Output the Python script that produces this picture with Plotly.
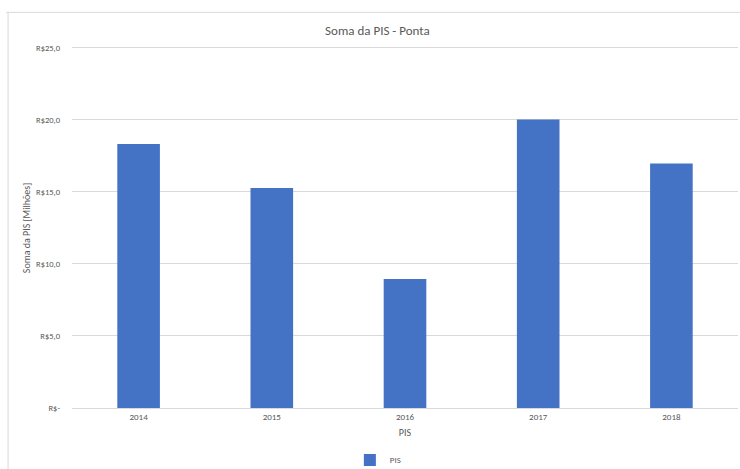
import plotly.graph_objects as go

anos = ["2014", "2015", "2016", "2017", "2018"]
pis_milhoes = [18.33, 15.28, 8.95, 20.02, 16.98]
y_ticks = [0, 5, 10, 15, 20, 25]
y_tick_labels = ["R$-", "R$5,0", "R$10,0", "R$15,0", "R$20,0", "R$25,0"]

fonte = "Carlito, Open Sans, Liberation Sans, sans-serif"
cinza = "#595959"

fig = go.Figure()
fig.add_trace(go.Bar(
    x=anos, y=pis_milhoes, name="PIS",
    marker_color="#4472C4", marker_line_width=0,
    width=0.32,
))

fig.update_layout(
    width=740, height=469,
    paper_bgcolor="white", plot_bgcolor="white",
    margin=dict(l=72, r=2, t=45, b=61, autoexpand=False),
    font=dict(family=fonte, color=cinza, size=9),
    title=dict(text="Soma da PIS - Ponta", x=0.51, xanchor="center",
               y=0.936, yanchor="middle",
               font=dict(size=13, color=cinza, family=fonte)),
    showlegend=True,
    legend=dict(orientation="h", x=0.46, xanchor="center",
                y=-0.143, yanchor="middle",
                font=dict(size=9, color=cinza), itemwidth=30),
    shapes=[
        dict(type="line", xref="paper", yref="paper",
             x0=-0.096, x1=-0.096, y0=1.09, y1=-0.2,
             line=dict(color="#D9D9D9", width=1)),
        dict(type="line", xref="paper", yref="paper",
             x0=-0.099, x1=1.01, y0=1.09, y1=1.09,
             line=dict(color="#D9D9D9", width=1)),
    ],
    annotations=[
        dict(text="Soma da PIS [Milhões]", textangle=-90,
             xref="paper", yref="paper", x=-0.068, y=0.4945,
             xanchor="center", yanchor="middle", showarrow=False,
             font=dict(size=10, color=cinza)),
    ],
)

fig.update_xaxes(
    title=dict(text="PIS", font=dict(size=10, color=cinza), standoff=8),
    showgrid=False, showline=True, linecolor="#D9D9D9", linewidth=1,
    ticks="", tickfont=dict(size=9, color=cinza), automargin=False,
)
fig.update_yaxes(
    range=[0, 25.2], tickvals=y_ticks, ticktext=y_tick_labels,
    showgrid=True, gridcolor="#D9D9D9", gridwidth=1,
    zeroline=False, showline=False, ticks="", automargin=False,
    ticklabelstandoff=11, tickfont=dict(size=8.5, color=cinza),
)

# a margem padrão do <body> desloca a figura 8px
fig.write_html("out.html", config={"displayModeBar": False},
               post_script="document.body.style.margin='0';")
